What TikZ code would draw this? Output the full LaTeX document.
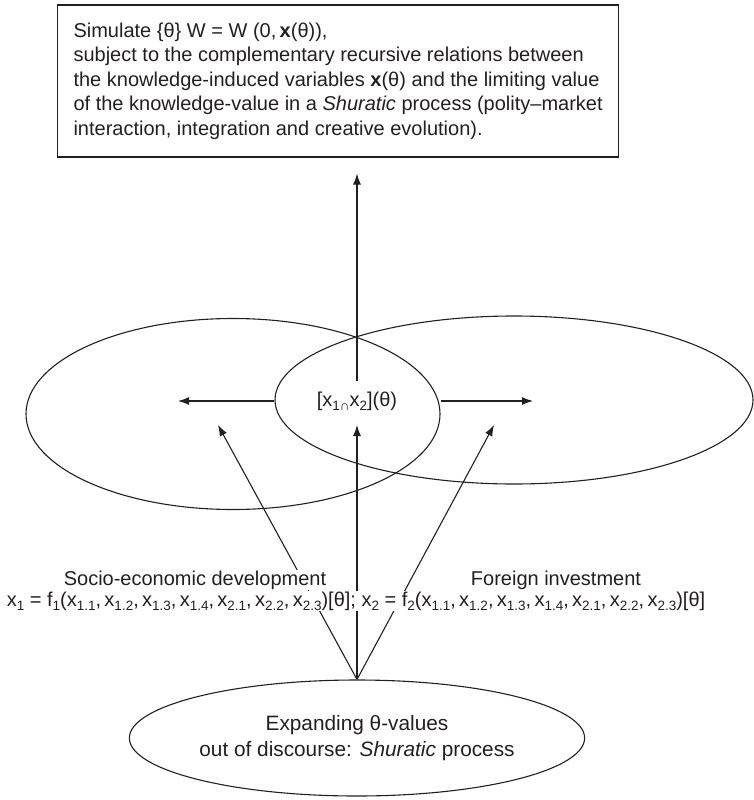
\documentclass[tikz,border=0pt]{standalone}
\usepackage{fontspec}
\setmainfont{Liberation Sans}
\usetikzlibrary{shapes.geometric,arrows.meta}
\definecolor{ink}{RGB}{35,31,32}
% lowered subscript in the running text size
\newcommand\sbx[1]{\raisebox{-4pt}{\fontsize{13.5}{13.5}\selectfont #1}}
\begin{document}
\begin{tikzpicture}[x=1pt,y=-1pt,
  every node/.style={text=ink, font=\fontsize{20}{24.5}\selectfont},
  line/.style={draw=ink, line width=1.1pt},
  arr/.style={line, -{Latex[length=11pt,width=8pt]}},
  oval/.style={ellipse, line, minimum width=#1},
  label text/.style={fill=white, inner sep=1pt}]
\useasboundingbox (0,0) rectangle (753,800);

% goal statement
\node[line, anchor=west, minimum width=538pt, minimum height=152pt,
      inner xsep=16pt, align=left] (goal) at (57,81)
  {Simulate \{θ\} W = W (0,\,\textbf{x}(θ)),\\
   subject to the complementary recursive relations between\\
   the knowledge-induced variables \textbf{x}(θ) and the limiting value\\
   of the knowledge-value in a \textit{Shuratic} process (polity–market\\
   interaction, integration and creative evolution).};

% the two overlapping domains
\node[oval=414pt, minimum height=191pt] (L) at (233,414) {};
\node[oval=478pt, minimum height=168pt] (R) at (514,400) {};
\node[minimum height=40pt, inner sep=0pt] (inter) at (357,401)
  {[x\sbx{1∩}x\sbx{2}](θ)};

% source of theta values
\node[oval=334pt, minimum height=116pt, align=center,
      font=\fontsize{20.8}{25.5}\selectfont] (B) at (357,738)
  {Expanding θ-values\\out of discourse: \textit{Shuratic} process};

% free arrow ends
\coordinate (ltip) at (178,401);
\coordinate (rtip) at (533,401);
\coordinate (ctip) at (357,425);
\coordinate (dl) at (218,425);
\coordinate (dr) at (494,425);

\draw[arr, shorten >=16pt] (inter.north) -- (goal.south -| inter.north);
\draw[arr] (R.west |- inter.center) -- (ltip);
\draw[arr] (L.east |- inter.center) -- (rtip);
\draw[arr] (B.north) -- (ctip);
\draw[arr] (B.north) -- (dl);
\draw[arr] (B.north) -- (dr);

% labels of the two domains
\node[label text, anchor=base] (socio) at (195,585) {Socio-economic development};
\node[label text, anchor=base] (foreign) at (556,585) {Foreign investment};
\node[label text, anchor=base] (formula) at (356,606)
  {x\sbx{1} = f\sbx{1}(x\sbx{1.1},\,x\sbx{1.2},\,x\sbx{1.3},\,x\sbx{1.4},\,x\sbx{2.1},\,x\sbx{2.2},\,x\sbx{2.3})[θ]; x\sbx{2} = f\sbx{2}(x\sbx{1.1},\,x\sbx{1.2},\,x\sbx{1.3},\,x\sbx{1.4},\,x\sbx{2.1},\,x\sbx{2.2},\,x\sbx{2.3})[θ]};
\end{tikzpicture}
\end{document}
